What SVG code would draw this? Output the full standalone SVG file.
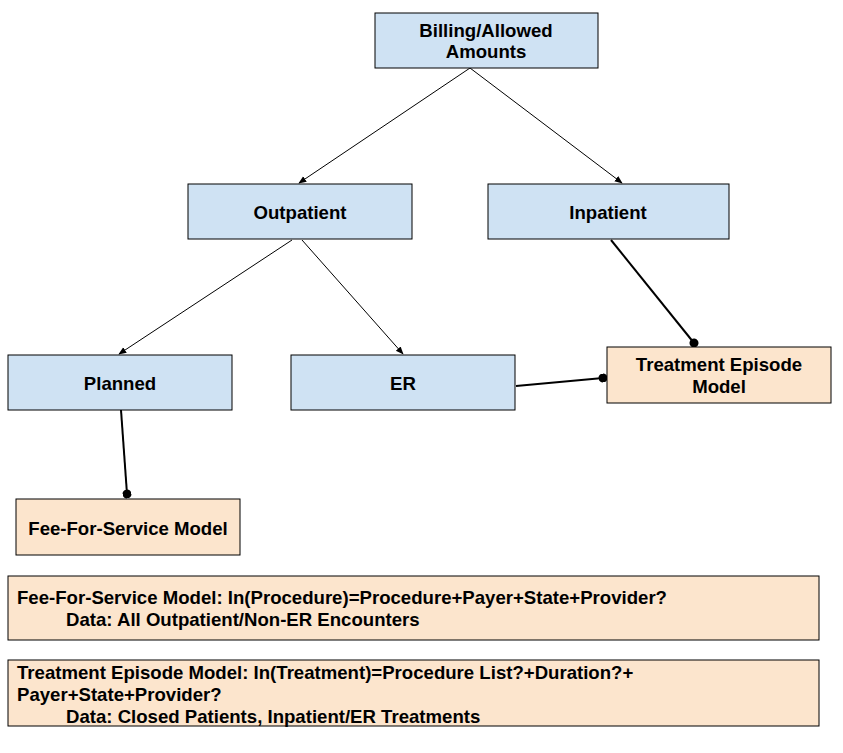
<svg xmlns="http://www.w3.org/2000/svg" width="843" height="753" viewBox="0 0 843 753">
<defs>
<style>
.blue{fill:#cfe2f3;stroke:#000;stroke-width:1}
.tan{fill:#fce5cd;stroke:#000;stroke-width:1}
text{font-family:"Liberation Sans",Arial,sans-serif;font-weight:bold;font-size:18.6px;fill:#000}
.c{text-anchor:middle}
.thin{stroke:#000;stroke-width:1;fill:none;marker-end:url(#arr)}
.thick{stroke:#000;stroke-width:2;fill:none;marker-end:url(#dot)}
</style>
<marker id="arr" viewBox="0 0 10 10" refX="9" refY="5" markerWidth="8" markerHeight="8" orient="auto" markerUnits="userSpaceOnUse">
<path d="M0,1 L10,5 L0,9 z" fill="#000"/>
</marker>
<marker id="dot" viewBox="0 0 10 10" refX="5" refY="5" markerWidth="9" markerHeight="9" orient="auto" markerUnits="userSpaceOnUse">
<circle cx="5" cy="5" r="5" fill="#000"/>
</marker>
</defs>
<rect width="843" height="753" fill="#fff"/>
<g id="connectors">
<line class="thin" x1="470" y1="68" x2="299" y2="183"/>
<line class="thin" x1="470" y1="68" x2="622" y2="183"/>
<line class="thin" x1="292" y1="240" x2="119" y2="354"/>
<line class="thin" x1="302" y1="240" x2="403" y2="354"/>
<line class="thick" x1="611" y1="240" x2="694" y2="343"/>
<line class="thick" x1="516" y1="386" x2="603" y2="378"/>
<line class="thick" x1="121" y1="410" x2="127" y2="494"/>
</g>
<g id="billing">
<rect class="blue" x="375" y="13" width="223" height="55"/>
<text class="c" x="486" y="37">Billing/Allowed</text>
<text class="c" x="486" y="58">Amounts</text>
</g>
<g id="outpatient">
<rect class="blue" x="188" y="184" width="224" height="55"/>
<text class="c" x="300" y="219">Outpatient</text>
</g>
<g id="inpatient">
<rect class="blue" x="488" y="184" width="241" height="55"/>
<text class="c" x="608" y="219">Inpatient</text>
</g>
<g id="planned">
<rect class="blue" x="8" y="355" width="224" height="55"/>
<text class="c" x="120" y="390">Planned</text>
</g>
<g id="er">
<rect class="blue" x="291" y="355" width="224" height="55"/>
<text class="c" x="403" y="390">ER</text>
</g>
<g id="treatment">
<rect class="tan" x="607" y="347" width="224" height="56"/>
<text class="c" x="719" y="371">Treatment Episode</text>
<text class="c" x="719" y="393">Model</text>
</g>
<g id="ffs">
<rect class="tan" x="16" y="499" width="224" height="56"/>
<text class="c" x="128" y="535">Fee-For-Service Model</text>
</g>
<g id="ffs-desc">
<rect class="tan" x="8" y="576" width="811" height="64"/>
<text x="17" y="604">Fee-For-Service Model: In(Procedure)=Procedure+Payer+State+Provider?</text>
<text x="66" y="626">Data: All Outpatient/Non-ER Encounters</text>
</g>
<g id="te-desc">
<rect class="tan" x="8" y="660" width="811" height="66"/>
<text x="17" y="679">Treatment Episode Model: In(Treatment)=Procedure List?+Duration?+</text>
<text x="17" y="701">Payer+State+Provider?</text>
<text x="66" y="723">Data: Closed Patients, Inpatient/ER Treatments</text>
</g>
</svg>
